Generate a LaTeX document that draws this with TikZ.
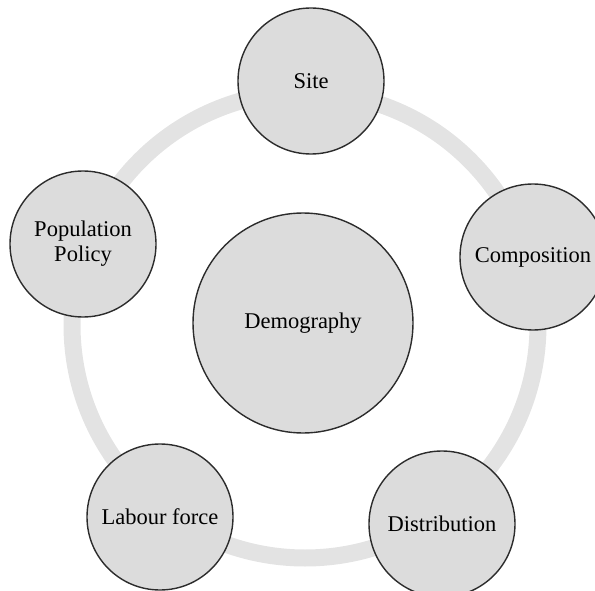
\documentclass[tikz,border=0pt]{standalone}
\usepackage{fontspec}
\setmainfont{Liberation Serif}
\usepackage{tikz}

\definecolor{discfill}{HTML}{DCDCDC}
\definecolor{ringgray}{HTML}{E3E3E3}
\definecolor{edgegray}{HTML}{2C2C2C}

\tikzset{
  topic/.style={circle, draw=edgegray, line width=1.4pt, fill=discfill,
    minimum size=146pt, inner sep=0pt, align=center,
    font=\fontsize{22.5}{25}\selectfont},
  core/.style={topic, minimum size=220pt}
}

\begin{document}
\begin{tikzpicture}[x=1pt,y=-1pt]
\useasboundingbox (0,0) rectangle (595,591);
\clip (0,0) rectangle (595,591);
% ring behind the discs
\coordinate (hub) at (305,325);
\draw[ringgray, line width=17pt] (hub) circle (233pt);
% centre
\node[core] (demog) at (303,323) {Demography};
% outer topics
\node[topic] (site) at (311,81) {Site};
\node[topic] (policy) at (83,244) {Population\\Policy};
\node[topic] (compo) at (533,257) {Composition};
\node[topic] (labour) at (160,517) {Labour force};
\node[topic] (distrib) at (442,524) {Distribution};
\end{tikzpicture}
\end{document}
